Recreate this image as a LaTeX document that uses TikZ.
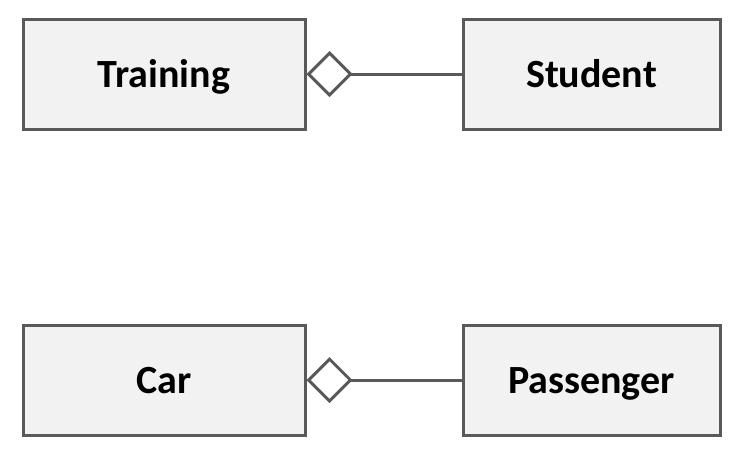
\documentclass[tikz,border=0pt]{standalone}
\usepackage{fontspec}
\setmainfont{Carlito}
\usetikzlibrary{arrows.meta,positioning}
\definecolor{boxgray}{RGB}{242,242,242}
\definecolor{linegray}{RGB}{89,89,89}
\tikzset{
  classbox/.style={draw=linegray,fill=boxgray,line width=3pt,inner sep=0pt,
    minimum height=110pt,text height=26pt,text depth=0pt,
    font=\fontsize{40}{48}\selectfont\bfseries},
  aggr/.style={draw=linegray,line width=3pt,
    {Diamond[open,length=46pt,width=46pt]}-}
}
\begin{document}
\begin{tikzpicture}[x=1pt,y=-1pt]
       \useasboundingbox (0,0) rectangle (749,456);

       \node[classbox,minimum width=282pt] (training) at (164,74) {Training};
       \node[classbox,minimum width=257pt] (student) at (591.5,74) {Student};

       \node[classbox,minimum width=282pt] (car) at (164,380) {Car};
       \node[classbox,minimum width=257pt] (passenger) at (591.5,380) {Passenger};

       \draw[aggr] (training.east) -- (student.west);
       \draw[aggr] (car.east) -- (passenger.west);
     \end{tikzpicture}
\end{document}
